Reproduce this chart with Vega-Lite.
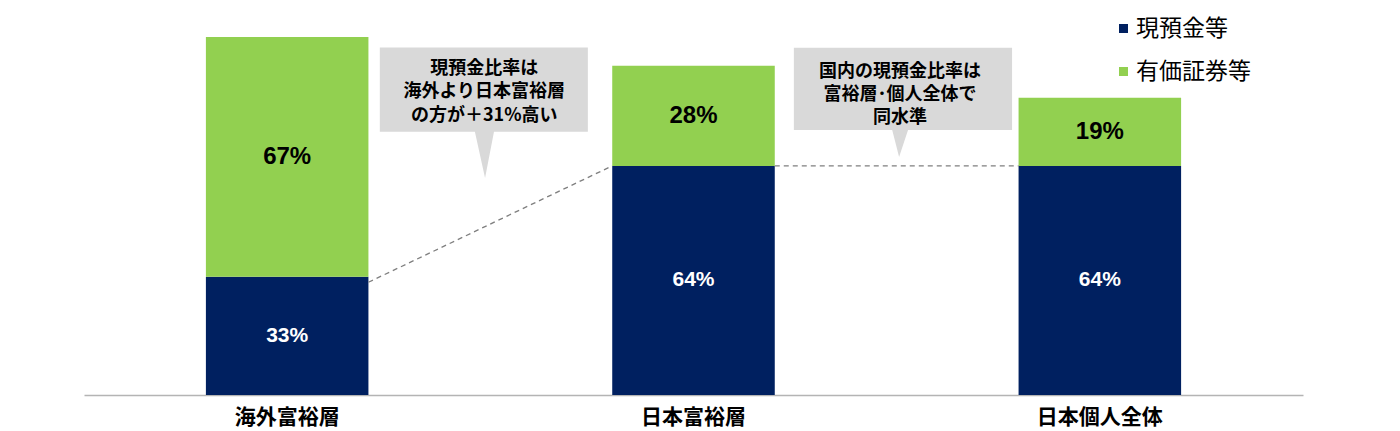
{
  "$schema": "https://vega.github.io/schema/vega-lite/v6.json",
  "width": 1219,
  "height": 358,
  "autosize": "none",
  "padding": {"left": 84, "top": 37, "right": 97, "bottom": 36},
  "config": {
    "view": {"stroke": null},
    "font": "Noto Sans CJK JP"
  },
  "layer": [
    {
      "data": {
        "values": [
          {"group": "海外富裕層", "kind": "現預金等", "value": 33, "label": "33%", "order": 1},
          {"group": "海外富裕層", "kind": "有価証券等", "value": 67, "label": "67%", "order": 2},
          {"group": "日本富裕層", "kind": "現預金等", "value": 64, "label": "64%", "order": 1},
          {"group": "日本富裕層", "kind": "有価証券等", "value": 28, "label": "28%", "order": 2},
          {"group": "日本個人全体", "kind": "現預金等", "value": 64, "label": "64%", "order": 1},
          {"group": "日本個人全体", "kind": "有価証券等", "value": 19, "label": "19%", "order": 2}
        ]
      },
      "transform": [
        {"stack": "value", "groupby": ["group"], "sort": [{"field": "order"}], "as": ["v0", "v1"]},
        {"calculate": "(datum.v0 + datum.v1) / 2", "as": "mid"}
      ],
      "encoding": {
        "x": {
          "field": "group",
          "type": "nominal",
          "sort": null,
          "scale": {"paddingInner": 0.6, "paddingOuter": 0.3},
          "axis": {
            "title": null,
            "labelAngle": 0,
            "labelFont": "Noto Sans CJK JP",
            "labelFontSize": 21,
            "labelFontWeight": "bold",
            "labelColor": "#000000",
            "labelPadding": 11,
            "ticks": false,
            "domainColor": "#b4b4b4",
            "domainWidth": 1.5
          }
        }
      },
      "layer": [
        {
          "mark": {"type": "bar"},
          "encoding": {
            "y": {"field": "v0", "type": "quantitative", "scale": {"domain": [0, 100]}, "axis": null},
            "y2": {"field": "v1"},
            "color": {
              "field": "kind",
              "type": "nominal",
              "scale": {"domain": ["現預金等", "有価証券等"], "range": ["#002060", "#92d050"]},
              "legend": {
                "title": null,
                "orient": "none",
                "legendX": 1028,
                "legendY": -20,
                "padding": 0,
                "symbolType": "square",
                "symbolSize": 81,
                "symbolStrokeWidth": 0,
                "labelFont": "Noto Sans CJK JP",
                "labelFontSize": 23,
                "labelColor": "#000000",
                "labelOffset": 1,
                "rowPadding": 19
              }
            }
          }
        },
        {
          "mark": {"type": "text", "font": "Liberation Sans", "fontWeight": "bold", "baseline": "middle"},
          "encoding": {
            "y": {"field": "mid", "type": "quantitative"},
            "text": {"field": "label", "type": "nominal"},
            "color": {"condition": {"test": "datum.kind === '現預金等'", "value": "#ffffff"}, "value": "#000000"},
            "size": {"condition": {"test": "datum.kind === '現預金等'", "value": 21}, "value": 24}
          }
        }
      ]
    },
    {
      "data": {
        "values": [
          {"id": "A", "x": 0.728, "top": 97.1, "bottom": 73.5},
          {"id": "A", "x": 0.962, "top": 97.1, "bottom": 73.5},
          {"id": "A", "x": 0.987, "top": 97.1, "bottom": 60.6},
          {"id": "A", "x": 1.009, "top": 97.1, "bottom": 73.5},
          {"id": "A", "x": 1.24, "top": 97.1, "bottom": 73.5},
          {"id": "B", "x": 1.747, "top": 97.0, "bottom": 74.0},
          {"id": "B", "x": 1.989, "top": 97.0, "bottom": 74.0},
          {"id": "B", "x": 2.006, "top": 97.0, "bottom": 66.5},
          {"id": "B", "x": 2.028, "top": 97.0, "bottom": 74.0},
          {"id": "B", "x": 2.284, "top": 97.0, "bottom": 74.0}
        ]
      },
      "mark": {"type": "area", "color": "#d9d9d9", "interpolate": "linear"},
      "encoding": {
        "x": {"field": "x", "type": "quantitative", "scale": {"domain": [0, 3]}, "axis": null},
        "y": {"field": "top", "type": "quantitative", "stack": null},
        "y2": {"field": "bottom"},
        "detail": {"field": "id"}
      }
    },
    {
      "data": {
        "values": [
          {"x": 0.7, "y": 31.5, "x2": 1.3, "y2": 64},
          {"x": 1.7, "y": 64, "x2": 2.3, "y2": 64}
        ]
      },
      "mark": {"type": "rule", "color": "#7f7f7f", "strokeDash": [5, 4], "strokeWidth": 1.3},
      "encoding": {
        "x": {"field": "x", "type": "quantitative", "scale": {"domain": [0, 3]}, "axis": null},
        "y": {"field": "y", "type": "quantitative"},
        "x2": {"field": "x2"},
        "y2": {"field": "y2"}
      }
    },
    {
      "data": {
        "values": [
          {"x": 0.985, "y": 91.1, "line": "現預金比率は"},
          {"x": 0.985, "y": 84.55, "line": "海外より日本富裕層"},
          {"x": 0.985, "y": 78.0, "line": "の方が＋31%高い"},
          {"x": 2.008, "y": 90.3, "line": "国内の現預金比率は"},
          {"x": 2.008, "y": 83.8, "line": "富裕層･個人全体で"},
          {"x": 2.008, "y": 77.3, "line": "同水準"}
        ]
      },
      "mark": {"type": "text", "font": "Noto Sans CJK JP", "fontWeight": "bold", "fontSize": 18, "baseline": "middle", "align": "center", "color": "#000000"},
      "encoding": {
        "x": {"field": "x", "type": "quantitative", "scale": {"domain": [0, 3]}, "axis": null},
        "y": {"field": "y", "type": "quantitative"},
        "text": {"field": "line", "type": "nominal"}
      }
    }
  ],
  "resolve": {"scale": {"x": "independent"}, "axis": {"x": "independent"}}
}
